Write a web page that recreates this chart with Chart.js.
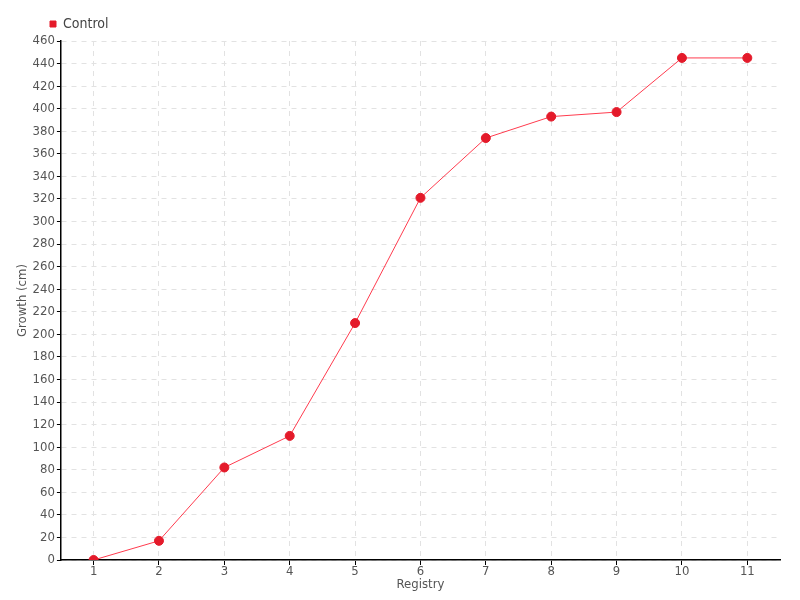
<!DOCTYPE html>
<html>
<head>
<meta charset="utf-8">
<script src="https://cdn.jsdelivr.net/npm/chart.js@4"></script>
<style>
  body { margin: 0; background: #fff; }
</style>
</head>
<body>
<canvas id="myChart" width="800" height="600"></canvas>
<script>
const registry = ["1", "2", "3", "4", "5", "6", "7", "8", "9", "10", "11"];
const control = [0, 17, 82, 110, 210, 321, 374, 393, 397, 445, 445];

Chart.defaults.font.family = "'Liberation Sans Narrow', 'DejaVu Sans Condensed', 'DejaVu Sans', sans-serif";
Chart.defaults.font.size = 13;
Chart.defaults.color = "#555";

const ctx = document.getElementById("myChart");

// push legend over so it sits near the y axis like the original
const legendShift = {
  id: "legendShift",
  afterLayout(chart) {
    if (chart.legend) chart.legend.left += 27;
  },
};

new Chart(ctx, {
  type: "line",
  data: {
    labels: registry,
    datasets: [
      {
        label: "Control",
        data: control,
        borderColor: "#ff3b4e",
        backgroundColor: "#e41a2a",
        borderWidth: 1,
        pointRadius: 4.5,
        pointHoverRadius: 5,
        pointBackgroundColor: "#e41a2a",
        pointBorderColor: "#e41a2a",
        tension: 0,
      },
    ],
  },
  options: {
    responsive: false,
    animation: false,
    layout: { padding: { left: 15, right: 20, top: 9, bottom: 9 } },
    plugins: {
      legend: {
        align: "start",
        labels: {
          usePointStyle: true,
          pointStyle: "rect",
          boxWidth: 6,
          boxHeight: 6,
          padding: 8,
          color: "#444",
          font: { size: 14 },
        },
      },
      tooltip: { enabled: false },
    },
    scales: {
      x: {
        offset: true,
        grid: {
          offset: false,
          color: "#e2e2e2",
          tickColor: "#000",
          tickLength: 5,
        },
        border: { color: "#000", width: 1.5, dash: [5, 5] },
        ticks: { padding: 0, maxRotation: 0, autoSkip: false, font: { lineHeight: 1 } },
        title: { display: true, text: "Registry", padding: 0, color: "#555", font: { lineHeight: 1 } },
      },
      y: {
        min: 0,
        max: 460,
        ticks: { stepSize: 20, padding: 2, autoSkip: false },
        grid: {
          color: "#e2e2e2",
          tickColor: "#000",
          tickLength: 4,
        },
        border: { color: "#000", width: 1.5, dash: [5, 5] },
        title: { display: true, text: "Growth (cm)", padding: 0, color: "#555" },
      },
    },
  },
  plugins: [legendShift],
});
</script>
</body>
</html>
